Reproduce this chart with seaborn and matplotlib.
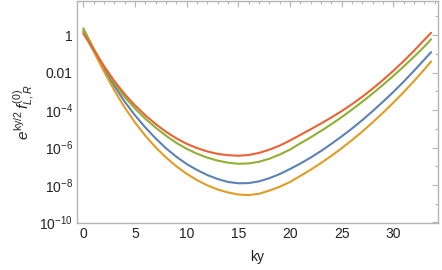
import numpy as np
import pandas as pd
import matplotlib
matplotlib.use("Agg")
import matplotlib.pyplot as plt
import matplotlib.ticker as mticker
import seaborn as sns

# ky sample positions
ky = [0, 1, 2, 3, 4, 5, 6, 7, 8, 9, 10, 11, 12, 13, 14, 15, 16, 17, 18, 19, 20,
      21, 22, 23, 24, 25, 26, 27, 28, 29, 30, 31, 32, 33, 33.66]
# log10 of e^{ky/2} f for each curve
blue_log = [0.20, -0.82, -1.80, -2.72, -3.55, -4.28, -4.93, -5.51, -6.04, -6.49, -6.88,
            -7.20, -7.47, -7.68, -7.84, -7.91, -7.90, -7.81, -7.64, -7.42, -7.15,
            -6.86, -6.54, -6.19, -5.81, -5.41, -4.99, -4.54, -4.06, -3.56, -3.04,
            -2.49, -1.91, -1.31, -0.91]
orange_log = [0.28, -0.86, -1.94, -2.95, -3.86, -4.66, -5.37, -5.99, -6.53, -7.00, -7.40,
              -7.74, -8.02, -8.24, -8.40, -8.51, -8.54, -8.47, -8.30, -8.10, -7.84,
              -7.52, -7.19, -6.83, -6.45, -6.04, -5.61, -5.15, -4.66, -4.15, -3.61,
              -3.05, -2.46, -1.84, -1.41]
green_log = [0.36, -0.71, -1.69, -2.58, -3.30, -3.92, -4.46, -4.94, -5.37, -5.75, -6.07,
             -6.33, -6.54, -6.70, -6.81, -6.87, -6.85, -6.76, -6.60, -6.38, -6.11,
             -5.78, -5.46, -5.12, -4.76, -4.38, -3.98, -3.56, -3.12, -2.66, -2.18,
             -1.68, -1.16, -0.62, -0.22]
red_log = [0.09, -0.80, -1.65, -2.45, -3.15, -3.75, -4.28, -4.75, -5.16, -5.51, -5.80,
           -6.03, -6.21, -6.34, -6.41, -6.44, -6.40, -6.29, -6.12, -5.90, -5.63,
           -5.33, -5.03, -4.72, -4.40, -4.06, -3.69, -3.29, -2.86, -2.40, -1.91,
           -1.39, -0.84, -0.26, 0.12]

series_names = ["c1", "c2", "c3", "c4"]
series_logs = [blue_log, orange_log, green_log, red_log]
colors = ["#5E81B5", "#E19C24", "#8FB032", "#EB6235"]

ytick_vals = [1, 1e-2, 1e-4, 1e-6, 1e-8, 1e-10]
ytick_labels = ["1", "0.01", r"$10^{-4}$", r"$10^{-6}$", r"$10^{-8}$", r"$10^{-10}$"]
xtick_vals = [0, 5, 10, 15, 20, 25, 30]

rows = []
for name, logs in zip(series_names, series_logs):
    for x, l in zip(ky, logs):
        rows.append({"ky": x, "val": 10.0 ** l, "s": name})
df = pd.DataFrame(rows)

sns.set_style("white")
plt.rcParams["font.family"] = ["Liberation Sans", "DejaVu Sans"]
plt.rcParams["mathtext.fontset"] = "custom"
plt.rcParams["mathtext.rm"] = "Liberation Sans"
plt.rcParams["mathtext.it"] = "Liberation Sans:italic"

fig = plt.figure(figsize=(4.42, 2.70), dpi=100)
ax = fig.add_axes([77 / 442, 1 - 223 / 270, (438 - 77) / 442, (223 - 1) / 270])

sns.lineplot(data=df, x="ky", y="val", hue="s", hue_order=series_names,
             palette=dict(zip(series_names, colors)), linewidth=1.5, legend=False, ax=ax,
             estimator=None, sort=False)

ax.set_yscale("log")
ax.set_ylim(10 ** -10.03, 10 ** 1.82)
ax.set_xlim(-0.61, 34.33)

ax.yaxis.set_major_locator(mticker.FixedLocator(ytick_vals))
ax.yaxis.set_major_formatter(mticker.FixedFormatter(ytick_labels))
ax.yaxis.set_minor_locator(mticker.FixedLocator([10.0 ** k for k in range(-9, 2, 2)]))
ax.yaxis.set_minor_formatter(mticker.NullFormatter())
ax.xaxis.set_major_locator(mticker.FixedLocator(xtick_vals))
ax.xaxis.set_minor_locator(mticker.MultipleLocator(1))

frame_col = "#b4b4b4"
for sp in ax.spines.values():
    sp.set_color(frame_col)
    sp.set_linewidth(1.0)
ax.tick_params(which="both", direction="in", top=True, right=True, color=frame_col,
               labelsize=10, labelcolor="#222222", width=0.8)
ax.tick_params(which="major", length=4, pad=3)
ax.tick_params(which="minor", length=2)

ax.set_xlabel("ky", fontsize=10, color="#222222", labelpad=6)
ax.set_ylabel(r"$e^{\mathrm{ky}/2}\,f^{(0)}_{L,R}$", fontsize=11, color="#222222", labelpad=2)

fig.savefig("out.png", dpi=100)
